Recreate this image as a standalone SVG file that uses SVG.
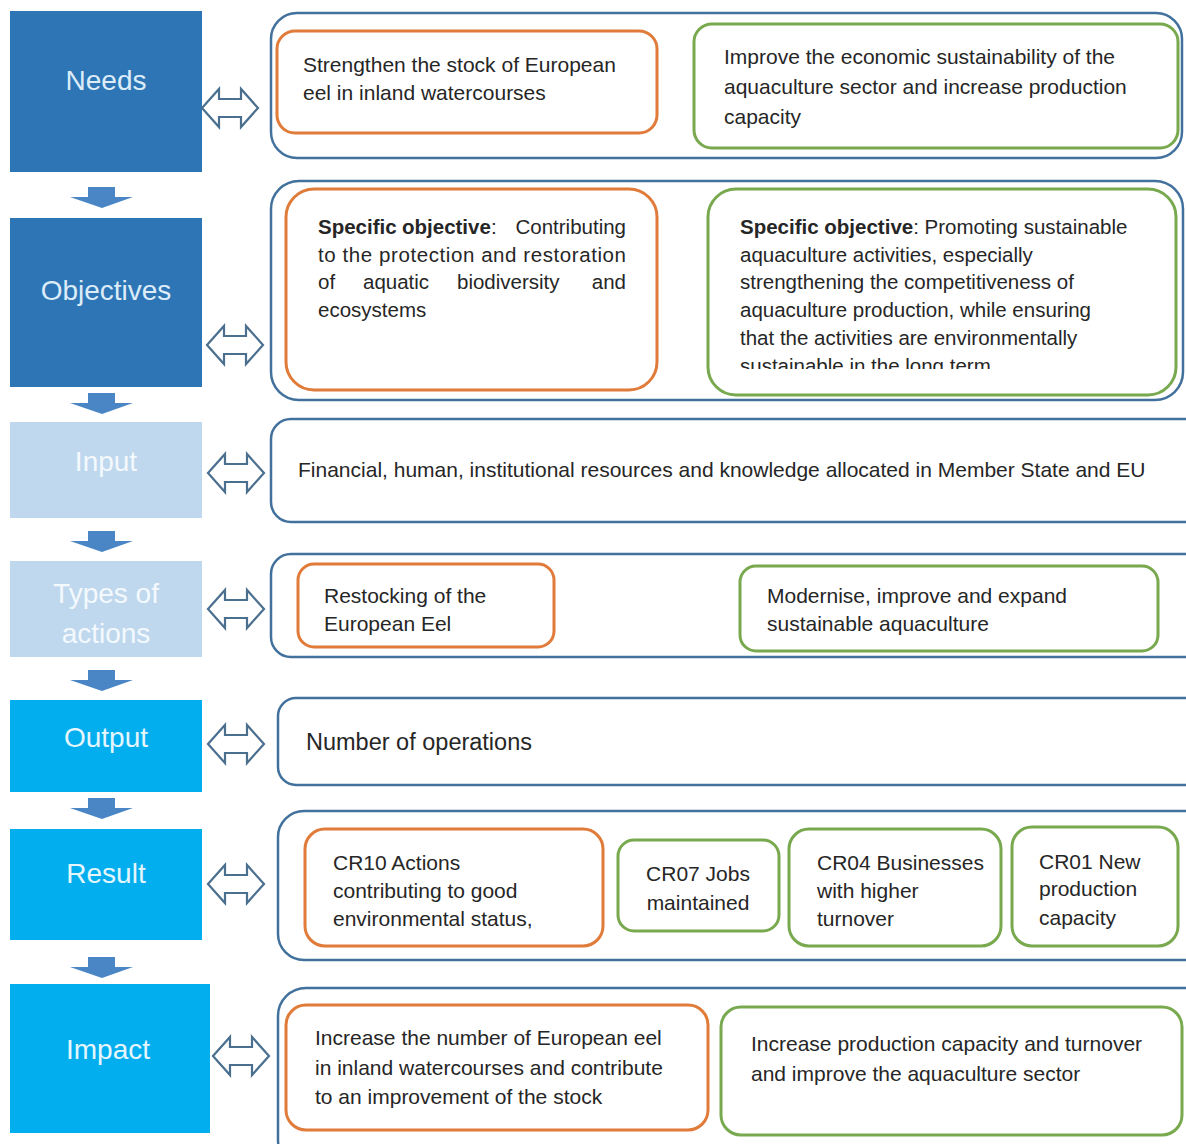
<svg xmlns="http://www.w3.org/2000/svg" width="1186" height="1144" viewBox="0 0 1186 1144">
<style>
.lab{font-family:"Liberation Sans",Arial,sans-serif;font-size:28px;text-anchor:middle}
.t{font-family:"Liberation Sans",Arial,sans-serif;font-size:21px;fill:#262626}
.s{font-size:20.5px}
.b{font-weight:bold}
.outer{fill:#fff;stroke:#41719c;stroke-width:2.5}
.or{fill:#fff;stroke:#e07b39;stroke-width:3}
.gr{fill:#fff;stroke:#78a94e;stroke-width:3}
.dn{fill:#4a86c5}
.dbl{fill:#fff;stroke:#4a6f8f;stroke-width:2.2;stroke-linejoin:miter}
</style>
<defs>
<path id="darr" d="M-28,0 L-11,-19 L-11,-9 L11,-9 L11,-19 L28,0 L11,19 L11,9 L-11,9 L-11,19 Z"/>
<path id="down" d="M-14,-10 L13,-10 L13,0 L31,0 L0,11 L-32,0 L-14,0 Z"/>
<clipPath id="clipObj"><rect x="700" y="180" width="486" height="189"/></clipPath>
</defs>
<rect width="1186" height="1144" fill="#fff"/>

<g id="node-needs">
<rect x="10" y="11" width="192" height="161" fill="#2e75b6"/>
<text class="lab" x="106" y="90" fill="#dcecf8">Needs</text>
</g>
<g id="node-objectives">
<rect x="10" y="218" width="192" height="169" fill="#2e75b6"/>
<text class="lab" x="106" y="300" fill="#dcecf8">Objectives</text>
</g>
<g id="node-input">
<rect x="10" y="422" width="192" height="96" fill="#bfd8ee"/>
<text class="lab" x="106" y="471" fill="#f4f9fd">Input</text>
</g>
<g id="node-types">
<rect x="10" y="561" width="192" height="96" fill="#bfd8ee"/>
<text class="lab" x="106" y="603" fill="#f4f9fd">Types of</text>
<text class="lab" x="106" y="643" fill="#f4f9fd">actions</text>
</g>
<g id="node-output">
<rect x="10" y="700" width="192" height="92" fill="#03aeef"/>
<text class="lab" x="106" y="747" fill="#e4f6fc">Output</text>
</g>
<g id="node-result">
<rect x="10" y="829" width="192" height="111" fill="#03aeef"/>
<text class="lab" x="106" y="883" fill="#e4f6fc">Result</text>
</g>
<g id="node-impact">
<rect x="10" y="984" width="200" height="149" fill="#03aeef"/>
<text class="lab" x="108" y="1059" fill="#e4f6fc">Impact</text>
</g>

<g id="row-needs">
<rect class="outer" x="271" y="13" width="911" height="145" rx="26"/>
<rect class="or" x="277" y="31" width="380" height="102" rx="18"/>
<text class="t" x="303" y="72">Strengthen the stock of European</text>
<text class="t" x="303" y="100">eel in inland watercourses</text>
<rect class="gr" x="694" y="24" width="484" height="124" rx="18"/>
<text class="t" x="724" y="64">Improve the economic sustainability of the</text>
<text class="t" x="724" y="94">aquaculture sector and increase production</text>
<text class="t" x="724" y="124">capacity</text>
</g>

<g id="row-objectives">
<rect class="outer" x="271" y="181" width="912" height="219" rx="28"/>
<rect class="or" x="286" y="189" width="371" height="201" rx="28"/>
<text class="t s" x="318" y="234"><tspan class="b">Specific</tspan></text>
<text class="t s b" x="402" y="234">objective</text>
<text class="t s" x="491" y="234">:</text>
<text class="t s" x="626" y="234" text-anchor="end">Contributing</text>
<text class="t s" x="318" y="262" textLength="308" lengthAdjust="spacing">to the protection and restoration</text>
<text class="t s" x="318" y="289">of</text>
<text class="t s" x="363" y="289">aquatic</text>
<text class="t s" x="457" y="289">biodiversity</text>
<text class="t s" x="626" y="289" text-anchor="end">and</text>
<text class="t s" x="318" y="317">ecosystems</text>
<rect class="gr" x="708" y="189" width="468" height="206" rx="28"/>
<g clip-path="url(#clipObj)">
<text class="t s" x="740" y="234"><tspan class="b">Specific objective</tspan>: Promoting sustainable</text>
<text class="t s" x="740" y="262">aquaculture activities, especially</text>
<text class="t s" x="740" y="289">strengthening the competitiveness of</text>
<text class="t s" x="740" y="317">aquaculture production, while ensuring</text>
<text class="t s" x="740" y="345">that the activities are environmentally</text>
<text class="t s" x="740" y="373">sustainable in the long term</text>
</g>
</g>

<g id="row-input">
<rect class="outer" x="271" y="419" width="940" height="103" rx="20"/>
<text class="t" x="298" y="477">Financial, human, institutional resources and knowledge allocated in Member State and EU</text>
</g>

<g id="row-types">
<rect class="outer" x="271" y="554" width="940" height="103" rx="20"/>
<rect class="or" x="298" y="564" width="256" height="83" rx="16"/>
<text class="t" x="324" y="603">Restocking of the</text>
<text class="t" x="324" y="631">European Eel</text>
<rect class="gr" x="740" y="566" width="418" height="85" rx="16"/>
<text class="t" x="767" y="603">Modernise, improve and expand</text>
<text class="t" x="767" y="631">sustainable aquaculture</text>
</g>

<g id="row-output">
<rect class="outer" x="278" y="698" width="940" height="87" rx="18"/>
<text class="t" x="306" y="750" style="font-size:23.5px">Number of operations</text>
</g>

<g id="row-result">
<rect class="outer" x="278" y="811" width="940" height="149" rx="26"/>
<rect class="or" x="305" y="829" width="298" height="117" rx="20"/>
<text class="t" x="333" y="870">CR10 Actions</text>
<text class="t" x="333" y="898">contributing to good</text>
<text class="t" x="333" y="926">environmental status,</text>
<rect class="gr" x="618" y="840" width="161" height="91" rx="16"/>
<text class="t" x="698" y="881" text-anchor="middle">CR07 Jobs</text>
<text class="t" x="698" y="910" text-anchor="middle">maintained</text>
<rect class="gr" x="789" y="829" width="212" height="117" rx="20"/>
<text class="t" x="817" y="870">CR04 Businesses</text>
<text class="t" x="817" y="898">with higher</text>
<text class="t" x="817" y="926">turnover</text>
<rect class="gr" x="1012" y="827" width="166" height="119" rx="20"/>
<text class="t" x="1039" y="869">CR01 New</text>
<text class="t" x="1039" y="896">production</text>
<text class="t" x="1039" y="925">capacity</text>
</g>

<g id="row-impact">
<rect class="outer" x="278" y="988" width="940" height="180" rx="28"/>
<rect class="or" x="286" y="1005" width="422" height="125" rx="20"/>
<text class="t" x="315" y="1045">Increase the number of European eel</text>
<text class="t" x="315" y="1075">in inland watercourses and contribute</text>
<text class="t" x="315" y="1104">to an improvement of the stock</text>
<rect class="gr" x="721" y="1007" width="461" height="128" rx="20"/>
<text class="t" x="751" y="1051">Increase production capacity and turnover</text>
<text class="t" x="751" y="1081">and improve the aquaculture sector</text>
</g>

<g id="connectors">
<use href="#down" class="dn" x="102" y="197"/>
<use href="#down" class="dn" x="102" y="403"/>
<use href="#down" class="dn" x="102" y="541"/>
<use href="#down" class="dn" x="102" y="680"/>
<use href="#down" class="dn" x="102" y="808"/>
<use href="#down" class="dn" x="102" y="967"/>
<use href="#darr" class="dbl" x="230" y="108"/>
<use href="#darr" class="dbl" x="235" y="345"/>
<use href="#darr" class="dbl" x="236" y="473"/>
<use href="#darr" class="dbl" x="236" y="609"/>
<use href="#darr" class="dbl" x="236" y="744"/>
<use href="#darr" class="dbl" x="236" y="884"/>
<use href="#darr" class="dbl" x="241" y="1056"/>
</g>
</svg>
